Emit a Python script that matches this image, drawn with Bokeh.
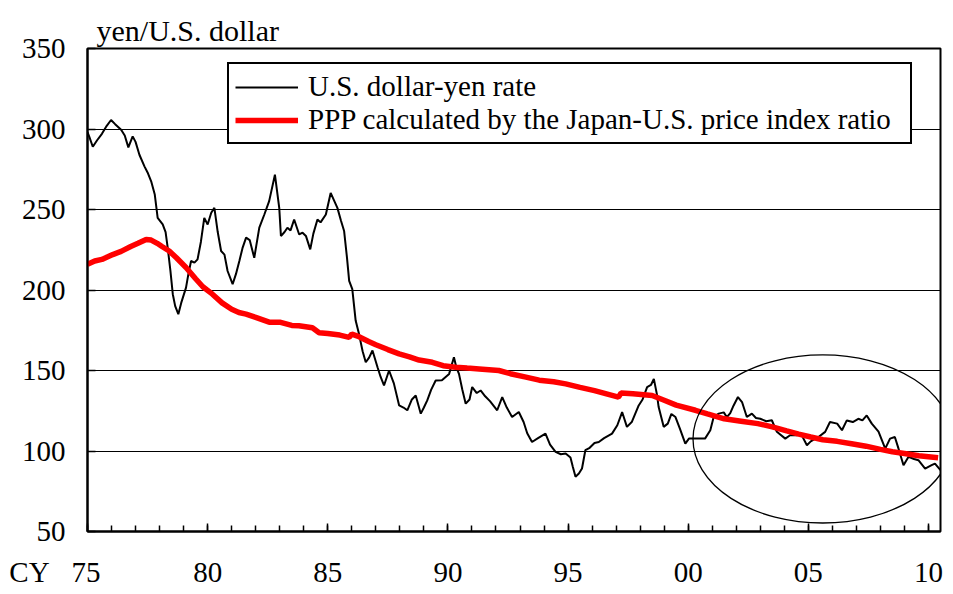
from bokeh.plotting import figure
from bokeh.models import (Range1d, FixedTicker, Legend, LegendItem, Title)
from bokeh.embed import file_html
from bokeh.resources import INLINE

# ---- data ----
fx_year = [1975.00, 1975.08, 1975.22, 1975.40, 1975.60, 1975.80, 1975.98, 1976.15, 1976.40, 1976.55,
           1976.70, 1976.88, 1977.00, 1977.16, 1977.37, 1977.50, 1977.65, 1977.80, 1977.92, 1978.13,
           1978.25, 1978.34, 1978.45, 1978.55, 1978.65, 1978.78, 1978.90, 1979.10, 1979.20, 1979.31,
           1979.45, 1979.58, 1979.72, 1979.86, 1980.00, 1980.15, 1980.28, 1980.42, 1980.56, 1980.70,
           1980.83, 1981.04, 1981.18, 1981.32, 1981.45, 1981.60, 1981.75, 1981.94, 1982.15, 1982.36,
           1982.56, 1982.80, 1982.98, 1983.05, 1983.20, 1983.32, 1983.45, 1983.60, 1983.81, 1983.95,
           1984.09, 1984.27, 1984.40, 1984.57, 1984.70, 1984.92, 1985.12, 1985.25, 1985.40, 1985.55,
           1985.68, 1985.80, 1985.89, 1986.02, 1986.16, 1986.30, 1986.45, 1986.58, 1986.72, 1986.86,
           1987.07, 1987.20, 1987.34, 1987.55, 1987.75, 1987.97, 1988.15, 1988.31, 1988.50, 1988.66,
           1988.87, 1989.00, 1989.14, 1989.30, 1989.49, 1989.75, 1990.05, 1990.25, 1990.35, 1990.46,
           1990.60, 1990.74, 1990.90, 1991.01, 1991.20, 1991.36, 1991.55, 1991.75, 1992.05, 1992.26,
           1992.45, 1992.67, 1992.95, 1993.15, 1993.30, 1993.50, 1993.75, 1994.06, 1994.25, 1994.48,
           1994.70, 1994.90, 1995.10, 1995.20, 1995.31, 1995.45, 1995.58, 1995.72, 1995.90, 1996.10,
           1996.28, 1996.50, 1996.83, 1997.05, 1997.25, 1997.45, 1997.65, 1997.94, 1998.10, 1998.29,
           1998.45, 1998.57, 1998.70, 1998.77, 1998.98, 1999.15, 1999.30, 1999.47, 1999.65, 1999.88,
           2000.03, 2000.30, 2000.70, 2000.92, 2001.06, 2001.27, 2001.48, 2001.61, 2001.75, 2001.89,
           2002.07, 2002.24, 2002.44, 2002.65, 2002.82, 2003.00, 2003.25, 2003.48, 2003.69, 2004.04,
           2004.24, 2004.52, 2004.70, 2004.94, 2005.10, 2005.42, 2005.70, 2005.90, 2006.20, 2006.40,
           2006.60, 2006.85, 2007.08, 2007.25, 2007.43, 2007.64, 2007.92, 2008.20, 2008.40, 2008.60,
           2008.75, 2008.96, 2009.17, 2009.40, 2009.58, 2009.86, 2010.13, 2010.27, 2010.50]
fx_rate = [298, 295, 289, 293, 297, 302, 305.6, 303, 299.5, 296,
           288.6, 295.4, 292, 284, 276.8, 273, 267.5, 259.3, 244.8, 240.7,
           236, 226, 212, 197.4, 190, 185, 192, 201.5, 210, 218,
           217, 219, 230, 244.8, 240.7, 248, 251, 236, 224.2, 222,
           211.8, 203.6, 210, 218, 226, 232.5, 231, 220, 238.7, 246.9,
           255.2, 271.6, 251, 233.5, 236, 238.7, 237, 243.8, 234.5, 235.6,
           233.6, 225.2, 235, 243.8, 242, 246.9, 260.3, 256, 251, 243,
           236.6, 220, 205.7, 200.5, 181, 172.6, 162, 155.1, 158, 162.4,
           152, 146, 140.7, 150, 142, 128.3, 127, 125.3, 132, 134.5,
           123.2, 127, 131.4, 138, 143.8, 144, 147.9, 158.2, 152, 147.9,
           138, 129.4, 132, 139.7, 136, 137.6, 134, 131, 125.3, 133.5,
           127, 121.1, 124.2, 118, 111, 105.6, 108, 110.8, 104, 99.5,
           98, 98.4, 96, 90, 84, 86, 89.1, 100.5, 102, 105,
           105.6, 108, 110.8, 116, 124.2, 115, 118, 128.3, 132, 139.7,
           141, 144.8, 135, 127.3, 115, 117, 123, 121.1, 114, 104.6,
           107.7, 107.7, 107.7, 112.9, 121.1, 123.2, 124, 121, 123.5, 128.3,
           133.5, 130.4, 121.1, 123.2, 120.5, 120, 118.5, 119.1, 111.9, 107.7,
           109.8, 109.8, 110.5, 103.6, 106, 108.7, 111.9, 118, 117, 112.9,
           119, 118, 120, 119, 122.1, 117, 112, 101.5, 107.7, 108.7,
           101.6, 91.2, 96.4, 95, 94.3, 89.1, 91.2, 92.2, 88.1]

ppp_year = [1975.00, 1975.30, 1975.60, 1976.05, 1976.40, 1976.80, 1977.10, 1977.44, 1977.65, 1977.90,
            1978.10, 1978.40, 1978.70, 1979.10, 1979.50, 1979.80, 1980.20, 1980.60, 1981.00, 1981.30,
            1981.60, 1982.00, 1982.56, 1983.00, 1983.50, 1983.80, 1984.36, 1984.64, 1985.00, 1985.50,
            1985.89, 1986.00, 1986.30, 1986.70, 1987.00, 1987.50, 1987.97, 1988.40, 1988.80, 1989.35,
            1989.80, 1990.32, 1990.80, 1991.30, 1992.12, 1992.60, 1993.20, 1993.80, 1994.40, 1994.90,
            1995.50, 1996.10, 1996.60, 1997.10, 1997.20, 1997.70, 1998.50, 1999.00, 1999.50, 2000.30,
            2000.80, 2001.50, 2002.20, 2002.90, 2003.50, 2004.10, 2004.60, 2005.10, 2005.60, 2006.20,
            2006.80, 2007.40, 2008.00, 2008.50, 2009.00, 2009.60, 2010.40]
ppp_rate = [216, 218, 219, 222, 224, 227, 229, 231.4, 231, 229,
            227, 224.2, 220, 214, 207, 202, 197.4, 192, 188, 186,
            185, 183, 180, 180, 178, 177.8, 176.5, 173.5, 173, 172,
            170.6, 172.6, 171, 168, 166, 163, 160.3, 158.5, 156.5, 155.1,
            153, 152, 151.5, 151, 150, 148, 146, 144, 143, 141.7,
            139.5, 137.5, 135.5, 133.5, 136, 135.5, 134.5, 131.5, 128.5, 125.3,
            123, 120, 118.5, 117, 115, 112.5, 110.5, 108.7, 107, 106,
            104.5, 103, 101, 99.5, 98.5, 97, 95.8]

x_ticks = [1975, 1980, 1985, 1990, 1995, 2000, 2005, 2010]
x_tick_labels = ["75", "80", "85", "90", "95", "00", "05", "10"]
x_axis_prefix = "CY"
y_ticks = [50, 100, 150, 200, 250, 300, 350]
y_unit = "yen/U.S. dollar"

series_names = ["U.S. dollar-yen rate", "PPP calculated by the Japan-U.S. price index ratio"]

FONT = "Liberation Serif"
FS = "29px"
NB = "\u00a0"

p = figure(width=943, height=590, output_backend="svg", toolbar_location=None,
           x_range=Range1d(1975, 2010.5), y_range=Range1d(50, 350),
           min_border_left=87, min_border_right=3, min_border_top=48, min_border_bottom=57)
p.background_fill_color = "white"
p.border_fill_color = "white"
p.outline_line_color = "black"
p.outline_line_width = 2

# unit label above the frame
unit = Title(text=y_unit, align="left", offset=9, standoff=4,
             text_font=FONT, text_font_size="30px", text_font_style="normal", text_color="black")
p.add_layout(unit, "above")

# axes
labels = {t: l for t, l in zip(x_ticks, x_tick_labels)}
# "CY" sits on the same line, left of the first year label (centre kept on "75")
labels[x_ticks[0]] = x_axis_prefix + NB * 3 + x_tick_labels[0] + NB * 9
p.xaxis.ticker = FixedTicker(ticks=x_ticks, minor_ticks=list(range(1975, 2011)))
p.xaxis.major_label_overrides = labels
p.yaxis.ticker = FixedTicker(ticks=y_ticks)
for ax in (p.xaxis[0], p.yaxis[0]):
    ax.axis_line_color = "black"
    ax.axis_line_width = 2
    ax.major_tick_in = 8
    ax.major_tick_out = 0
    ax.minor_tick_in = 6
    ax.minor_tick_out = 0
    ax.major_tick_line_color = "black"
    ax.major_tick_line_width = 1.5
    ax.minor_tick_line_color = "black"
    ax.minor_tick_line_width = 1.5
    ax.major_label_text_font = FONT
    ax.major_label_text_font_size = FS
    ax.major_label_text_color = "black"
p.yaxis.minor_tick_line_color = None
p.xaxis.major_label_standoff = 24
p.yaxis.major_label_standoff = 22

p.xgrid.grid_line_color = None
p.ygrid.ticker = FixedTicker(ticks=y_ticks)
p.ygrid.grid_line_color = "black"
p.ygrid.grid_line_width = 1.2

# lines
r_fx = p.line(fx_year, fx_rate, line_color="black", line_width=2)
r_ppp = p.line(ppp_year, ppp_rate, line_color="#ff0000", line_width=5.5)

# highlight ellipse
p.ellipse(x=2005.6, y=107.5, width=10.8, height=104.5, fill_color=None,
          line_color="black", line_width=1.3)

legend = Legend(items=[LegendItem(label=series_names[0], renderers=[r_fx]),
                       LegendItem(label=series_names[1], renderers=[r_ppp])],
                location=(140, 387))
legend.label_text_font = FONT
legend.label_text_font_size = FS
legend.label_text_color = "black"
legend.border_line_color = "black"
legend.border_line_alpha = 1
legend.border_line_width = 2
legend.background_fill_color = "white"
legend.background_fill_alpha = 1
legend.glyph_width = 63
legend.glyph_height = 20
legend.label_standoff = 10
legend.label_width = 596
legend.padding = 6
legend.spacing = 0
legend.margin = 0
p.add_layout(legend)

open("out.html", "w").write(file_html(p, INLINE))
